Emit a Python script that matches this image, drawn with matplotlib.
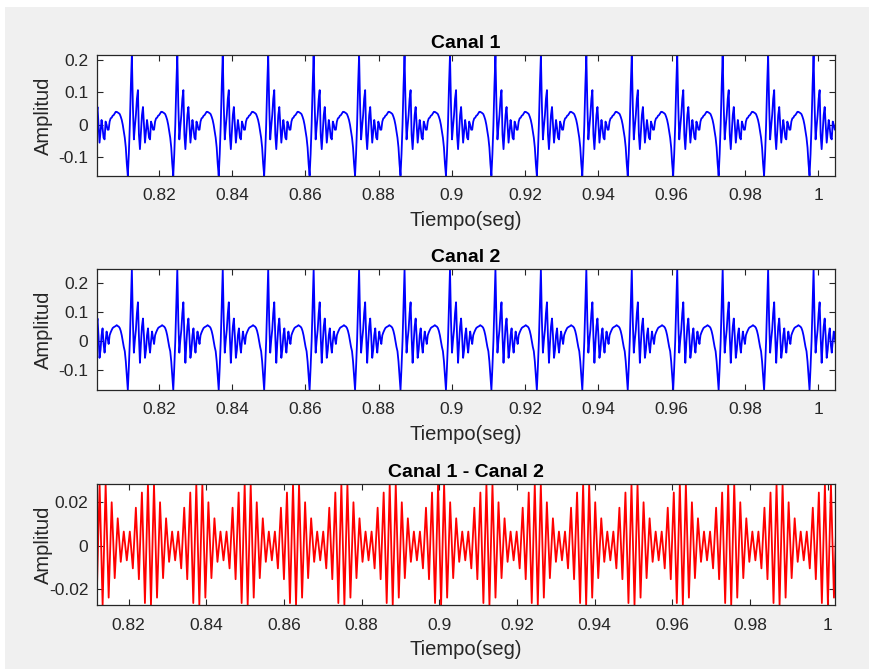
import numpy as np
import matplotlib
matplotlib.use("Agg")
import matplotlib.pyplot as plt
from matplotlib.patches import Rectangle

plt.rcParams['font.family'] = ['Liberation Sans', 'DejaVu Sans']

# ---------------- data ----------------
# one period of Canal 1, samples starting at the positive spike
canal1_period = [0.2154, 0.06, -0.045, -0.005, 0.03, 0.08, 0.107, -0.03, -0.075, -0.02,
                 0.03, 0.055, 0.0, -0.055, -0.02, 0.015, -0.01, -0.04, -0.045, 0.01,
                 0.0, -0.015, -0.015, 0.01, 0.02, 0.022, 0.028, 0.03, 0.035, 0.04,
                 0.04, 0.038, 0.036, 0.033, 0.025, 0.015, 0.0, -0.02, -0.04, -0.07,
                 -0.12, -0.157, -0.09, 0.0, 0.12]
# one period of Canal 2, same sampling
canal2_period = [0.248, 0.07, -0.04, 0.004, 0.039, 0.096, 0.134, 0.016, -0.075, -0.007,
                 0.05, 0.078, 0.016, -0.058, -0.03, 0.02, 0.044, -0.01, -0.04, 0.0,
                 0.033, 0.01, -0.01, 0.02, 0.03, 0.038, 0.045, 0.048, 0.05, 0.052,
                 0.055, 0.052, 0.05, 0.045, 0.035, 0.02, 0.0, -0.02, -0.035, -0.07,
                 -0.12, -0.169, -0.09, 0.0, 0.13]
# one period of Canal 1 - Canal 2, successive extrema starting at the envelope minimum
diff_period = [-0.0068, 0.0065, -0.0105, 0.0175, -0.0155, 0.0245, -0.0265, 0.0283,
               -0.0274, 0.0283, -0.024, 0.020, -0.015, 0.0126, -0.0075, 0.0065]

period_12 = 0.01241      # s, spike period in Canal 1/2
first_spike = 0.8126     # s
period_3 = 0.01245       # s, envelope period in difference
first_min = 0.8320       # s

xlim_12 = (0.8030, 1.0046)
xlim_3 = (0.8118, 1.0019)
ylim_1 = (-0.157, 0.2154)
ylim_2 = (-0.169, 0.248)
ylim_3 = (-0.0274, 0.0283)

xtick_vals = [0.82, 0.84, 0.86, 0.88, 0.90, 0.92, 0.94, 0.96, 0.98, 1.00]
xtick_labels = ['0.82', '0.84', '0.86', '0.88', '0.9', '0.92', '0.94', '0.96', '0.98', '1']
ytick_12 = [-0.1, 0.0, 0.1, 0.2]
ytick_12_labels = ['-0.1', '0', '0.1', '0.2']
ytick_3 = [-0.02, 0.0, 0.02]
ytick_3_labels = ['-0.02', '0', '0.02']
titles = ['Canal 1', 'Canal 2', 'Canal 1 - Canal 2']

# ---------------- build series by repeating the read period ----------------
def repeat_period(period_vals, period, t_ref, lo, hi):
    n = len(period_vals)
    dt = period / n
    k0 = int(np.floor((lo - t_ref) / dt)) - 1
    k1 = int(np.ceil((hi - t_ref) / dt)) + 1
    idx = np.arange(k0, k1 + 1)
    return t_ref + idx * dt, np.asarray(period_vals)[idx % n]

t1, y1 = repeat_period(canal1_period, period_12, first_spike, *xlim_12)
t2, y2 = repeat_period(canal2_period, period_12, first_spike, *xlim_12)
t3, y3 = repeat_period(diff_period, period_3, first_min, *xlim_3)

# ---------------- figure ----------------
W, H = 870, 669
fig = plt.figure(figsize=(W / 100, H / 100), dpi=100)
fig.patch.set_facecolor('#F0F0F0')
fig.patches.append(Rectangle((0, 1 - 7 / H), 1, 7 / H, transform=fig.transFigure,
                             facecolor='white', edgecolor='none', zorder=-10))
fig.patches.append(Rectangle((0, 0), 5 / W, 1, transform=fig.transFigure,
                             facecolor='white', edgecolor='none', zorder=-10))

left, right = 96.7, 835.0
tops = [55.0, 269.3, 484.3]
bots = [175.7, 390.0, 605.0]
dark = '#262626'

series = [(t1, y1, 'blue', xlim_12, ylim_1, ytick_12, ytick_12_labels),
          (t2, y2, 'blue', xlim_12, ylim_2, ytick_12, ytick_12_labels),
          (t3, y3, 'red', xlim_3, ylim_3, ytick_3, ytick_3_labels)]

for i, (t, y, col, xl, yl, yt, ytl) in enumerate(series):
    h = bots[i] - tops[i]
    ax = fig.add_axes([left / W, 1 - bots[i] / H, (right - left) / W, h / H])
    ax.plot(t, y, color=col, lw=1.3)
    ax.set_xlim(*xl)
    ax.set_ylim(*yl)
    ax.set_xticks(xtick_vals)
    ax.set_xticklabels(xtick_labels)
    ax.set_yticks(yt)
    ax.set_yticklabels(ytl)
    ax.tick_params(direction='in', length=4, width=0.8, colors=dark, labelsize=12.5,
                   top=True, right=True, pad=6)
    ax.tick_params(axis='x', pad=9)
    for s in ax.spines.values():
        s.set_color(dark)
        s.set_linewidth(0.9)
    ax.set_xlabel('Tiempo(seg)', fontsize=14.5, color=dark)
    ax.xaxis.set_label_coords(0.5, -(211 - 175.7) / h)
    ax.set_ylabel('Amplitud', fontsize=14.5, color=dark)
    ax.yaxis.set_label_coords(-(96.7 - 53) / (right - left), 0.5)
    ax.set_title(titles[i], fontsize=14, fontweight='bold', color='black', pad=5)

fig.savefig('out.png', dpi=100, facecolor=fig.get_facecolor())
